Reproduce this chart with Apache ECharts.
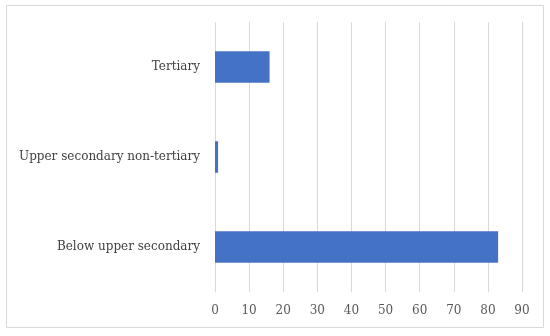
<!DOCTYPE html>
<html>
<head>
<meta charset="utf-8">
<script src="https://cdn.jsdelivr.net/npm/echarts@6/dist/echarts.min.js"></script>
<style>html,body{margin:0;padding:0;background:#fff}#c{width:550px;height:336px}</style>
</head>
<body>
<div id="c"></div>
<script>
const categories = ["Below upper secondary", "Upper secondary non-tertiary", "Tertiary"];
const values = [83, 0.9, 16];
const xTicks = { min: 0, max: 90, interval: 10 };

const chart = echarts.init(document.getElementById('c'), null, { renderer: 'canvas' });
const font = '"DejaVu Serif", serif';
chart.setOption({
  animation: false,
  backgroundColor: '#fff',
  graphic: [{
    type: 'rect', silent: true,
    shape: { x: 6.5, y: 5.5, width: 537, height: 322 },
    style: { fill: 'none', stroke: '#d9d9d9', lineWidth: 1 }
  }],
  grid: { left: 215, right: 28, top: 22, bottom: 44, containLabel: false },
  xAxis: {
    type: 'value', min: xTicks.min, max: xTicks.max, interval: xTicks.interval,
    axisLine: { show: false }, axisTick: { show: false },
    splitLine: { show: true, lineStyle: { color: '#d9d9d9', width: 1 } },
    axisLabel: { color: '#595959', fontFamily: font, fontSize: 12, margin: 13 }
  },
  yAxis: {
    type: 'category', data: categories,
    axisLine: { show: false }, axisTick: { show: false },
    axisLabel: { color: '#404040', fontFamily: font, fontSize: 12, margin: 15 }
  },
  series: [{
    type: 'bar', data: values, barWidth: '35%',
    itemStyle: { color: '#4472c4' }
  }]
});
</script>
</body>
</html>
